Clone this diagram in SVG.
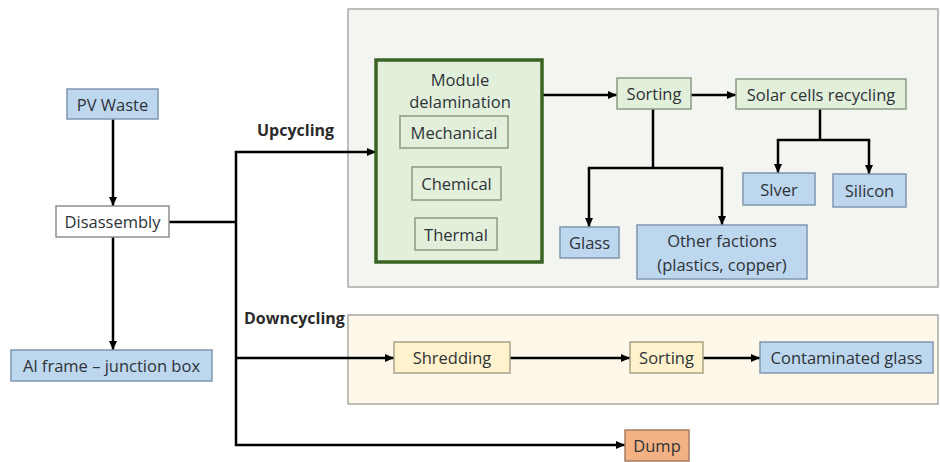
<svg xmlns="http://www.w3.org/2000/svg" width="940" height="462" viewBox="0 0 940 462">
<defs>
<marker id="ah" markerUnits="userSpaceOnUse" markerWidth="10" markerHeight="10" refX="9" refY="5" orient="auto">
<path d="M0,1 L9,5 L0,9 Z" fill="#000"/>
</marker>
<style>
text{font-family:"Open Sans","Liberation Sans",sans-serif;font-size:16.5px;fill:#2e3338;text-anchor:middle;dominant-baseline:central}
.lbl{font-weight:bold;font-size:16px;text-anchor:start;fill:#2a2a2a}
.panelU{fill:#f3f6f0;stroke:#a8aaa6;stroke-width:1.5}
.panelD{fill:#fdf8ea;stroke:#a8aaa6;stroke-width:1.5}
.blue{fill:#bdd7ee;stroke:#8097ad;stroke-width:1.5}
.green{fill:#e2efda;stroke:#8c9a84;stroke-width:1.5}
.mod{fill:#e2efda;stroke:#3b6326;stroke-width:3.5}
.yel{fill:#fff2cc;stroke:#a9a287;stroke-width:1.5}
.white{fill:#fff;stroke:#8f8f8f;stroke-width:1.5}
.orange{fill:#f4b183;stroke:#a57c62;stroke-width:1.5}
.c{fill:none;stroke:#000;stroke-width:2.5}
.ca{fill:none;stroke:#000;stroke-width:2.5;marker-end:url(#ah)}
</style>
</defs>
<g id="panel-upcycling"><rect class="panelU" x="348" y="9" width="590" height="278"/></g>
<g id="panel-downcycling"><rect class="panelD" x="348" y="315" width="590" height="89"/></g>
<g id="label-upcycling"><text class="lbl" x="257" y="130">Upcycling</text></g>
<g id="label-downcycling"><text class="lbl" x="244" y="318">Downcycling</text></g>

<g id="connectors">
<path class="ca" d="M113,119 V206"/>
<path class="ca" d="M113,237 V350"/>
<path class="c" d="M169,222 H236"/>
<path class="c" d="M236,151 V446"/>
<path class="ca" d="M235,152 H376"/>
<path class="ca" d="M235,358 H394"/>
<path class="ca" d="M235,445 H625"/>
<path class="ca" d="M542,95 H617"/>
<path class="ca" d="M691,95 H736"/>
<path class="c" d="M653,109 V168"/>
<path class="ca" d="M589,168 V227"/>
<path class="ca" d="M722,168 V225"/>
<path class="c" d="M587.8,168 H723.2"/>
<path class="c" d="M820,109 V140"/>
<path class="c" d="M776.8,140 H870.2"/>
<path class="ca" d="M778,140 V173"/>
<path class="ca" d="M869,140 V174"/>
<path class="ca" d="M510,358 H630"/>
<path class="ca" d="M703,358 H760"/>
</g>

<g id="pv-waste"><rect class="blue" x="67" y="89" width="91" height="30"/><text x="112.5" y="104">PV Waste</text></g>
<g id="disassembly"><rect class="white" x="56" y="206" width="113" height="31"/><text x="112.5" y="221.5">Disassembly</text></g>
<g id="al-frame"><rect class="blue" x="11" y="350" width="201" height="31"/><text x="111.5" y="365.5">Al frame – junction box</text></g>

<g id="module-delamination">
<rect class="mod" x="376" y="60" width="166" height="202"/>
<text x="460" y="79">Module</text>
<text x="460" y="101">delamination</text>
</g>
<g id="mechanical"><rect class="green" x="400" y="116" width="108" height="32"/><text x="454" y="132">Mechanical</text></g>
<g id="chemical"><rect class="green" x="412" y="167" width="89" height="33"/><text x="456.5" y="183.5">Chemical</text></g>
<g id="thermal"><rect class="green" x="415" y="218" width="82" height="32"/><text x="456" y="234">Thermal</text></g>

<g id="sorting-up"><rect class="green" x="617" y="78" width="74" height="31"/><text x="654" y="93.5">Sorting</text></g>
<g id="solar-cells"><rect class="green" x="736" y="79" width="170" height="30"/><text x="821" y="94">Solar cells recycling</text></g>
<g id="silver"><rect class="blue" x="743" y="173" width="72" height="32"/><text x="779" y="189">Slver</text></g>
<g id="silicon"><rect class="blue" x="833" y="174" width="73" height="33"/><text x="869.5" y="190.5">Silicon</text></g>
<g id="glass"><rect class="blue" x="560" y="227" width="59" height="31"/><text x="589.5" y="242.5">Glass</text></g>
<g id="other-factions"><rect class="blue" x="637" y="225" width="170" height="54"/><text x="722" y="240">Other factions</text><text x="722" y="264">(plastics, copper)</text></g>

<g id="shredding"><rect class="yel" x="394" y="342" width="116" height="31"/><text x="452" y="357.5">Shredding</text></g>
<g id="sorting-down"><rect class="yel" x="630" y="342" width="73" height="31"/><text x="666.5" y="357.5">Sorting</text></g>
<g id="contaminated-glass"><rect class="blue" x="760" y="342" width="173" height="31"/><text x="846.5" y="357.5">Contaminated glass</text></g>
<g id="dump"><rect class="orange" x="625" y="430" width="64" height="31"/><text x="657" y="445.5">Dump</text></g>
</svg>
